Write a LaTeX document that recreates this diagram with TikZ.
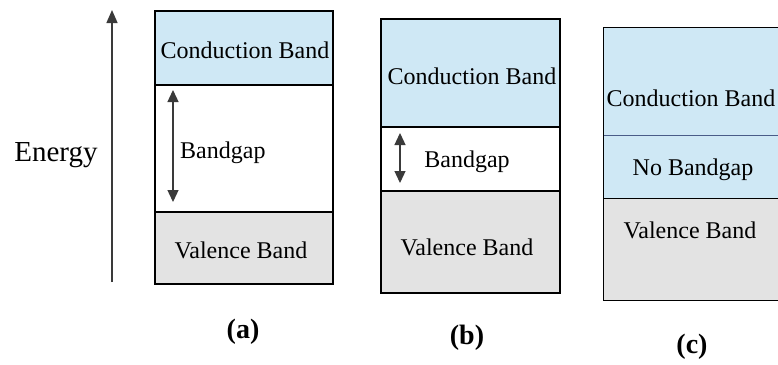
\documentclass[tikz,border=0pt]{standalone}
\usepackage{fontspec}
\setmainfont{Liberation Serif}
\newfontfamily\bandfont{Liberation Serif}
\usetikzlibrary{arrows.meta}
\definecolor{cbblue}{HTML}{CFE8F5}
\definecolor{vbgray}{HTML}{E3E3E3}
\definecolor{sepblue}{HTML}{4A5C88}
\definecolor{arrowgray}{HTML}{3A3A3A}
\begin{document}
\begin{tikzpicture}[x=1pt,y=-1pt,
  band/.style={rectangle, inner sep=0pt, draw=black, line width=1.3pt},
  bandfill/.style={rectangle, inner sep=0pt, draw=none},
  lbl/.style={font=\bandfont\fontsize{24}{28}\selectfont, inner sep=0pt},
  subcap/.style={font=\bandfont\fontsize{28}{32}\selectfont\bfseries, inner sep=0pt},
  gaparrow/.style={arrowgray, line width=1.3pt, {Triangle[width=11pt,length=12pt]}-{Triangle[width=11pt,length=12pt]}},
  boxframe/.style={black, line width=1.3pt}]
\useasboundingbox (0,0) rectangle (778,364);
\fill[white] (0,0) rectangle (778,364);
% Energy axis
\coordinate (eB) at (112,282);
\coordinate (eT) at (112,10);
\draw[arrowgray, line width=1.3pt, -{Triangle[width=11pt,length=13pt]}] (eB) -- (eT);
\node[font=\bandfont\fontsize{29}{32}\selectfont, inner sep=0pt] (energy) at (56,155) {Energy};
% (a)
\node[band, fill=cbblue, minimum width=178pt, minimum height=74pt] (cbA) at (244,48) {};
\node[band, fill=white, minimum width=178pt, minimum height=127pt] (gapA) at (244,148.5) {};
\node[band, fill=vbgray, minimum width=178pt, minimum height=72pt] (vbA) at (244,248) {};
\node[lbl] (cbAt) at (245,50) {Conduction Band};
\node[lbl, anchor=west] (gapAt) at (180,153) {Bandgap};
\node[lbl] (vbAt) at (241,250) {Valence Band};
\coordinate (aT) at (173,90);
\coordinate (aB) at (173,202);
\draw[gaparrow] (aT) -- (aB);
\node[subcap] (capA) at (243,332) {(a)};
% (b)
\node[band, fill=cbblue, minimum width=179pt, minimum height=108pt] (cbB) at (470.5,73) {};
\node[band, fill=white, minimum width=179pt, minimum height=64pt] (gapB) at (470.5,159) {};
\node[band, fill=vbgray, minimum width=179pt, minimum height=102pt] (vbB) at (470.5,242) {};
\node[lbl] (cbBt) at (472,76) {Conduction Band};
\node[lbl] (gapBt) at (467,162) {Bandgap};
\node[lbl] (vbBt) at (467,247) {Valence Band};
\coordinate (bT) at (400,133);
\coordinate (bB) at (400,183);
\draw[gaparrow] (bT) -- (bB);
\node[subcap] (capB) at (467,338) {(b)};
% (c)
\node[bandfill, fill=cbblue, minimum width=179pt, minimum height=107pt] (cbC) at (693.5,81.5) {};
\node[bandfill, fill=cbblue, minimum width=179pt, minimum height=64pt] (ngC) at (693.5,167) {};
\node[bandfill, fill=vbgray, minimum width=179pt, minimum height=101pt] (vbC) at (693.5,249.5) {};
\draw[boxframe] (cbC.north west) rectangle (vbC.south east);
\draw[boxframe] (vbC.north west) -- (vbC.north east);
\draw[sepblue, line width=1.2pt] (cbC.south west) -- (cbC.south east);
\node[lbl] (cbCt) at (691,98) {Conduction Band};
\node[lbl] (ngCt) at (693,170) {No Bandgap};
\node[lbl] (vbCt) at (690,230) {Valence Band};
\node[subcap] (capC) at (692,347) {(c)};
\end{tikzpicture}
\end{document}
